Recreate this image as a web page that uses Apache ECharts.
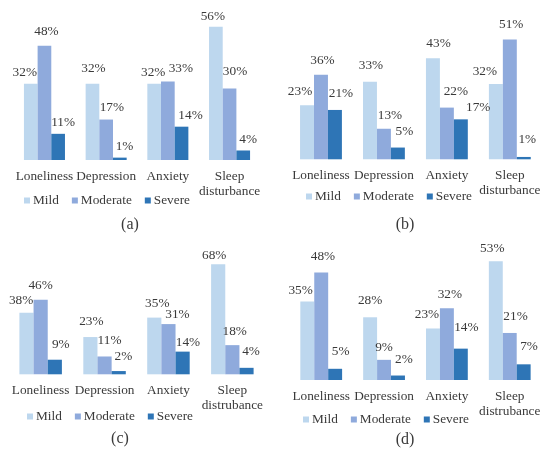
<!DOCTYPE html>
<html>
<head>
<meta charset="utf-8">
<script src="https://cdn.jsdelivr.net/npm/echarts@6/dist/echarts.min.js"></script>
<style>
  html, body { margin: 0; padding: 0; background: #fff; }
  #chart { width: 543px; height: 454px; }
</style>
</head>
<body>
<div id="chart"></div>
<script>
// Prevalence of symptom severity (%) in four survey groups
const seriesNames = ['Mild', 'Moderate', 'Severe'];
const categoriesAB = ['Loneliness', 'Depression', 'Anxiety', 'Sleep\ndisturbance'];
const categoriesCD = ['Loneliness', 'Depression', 'Anxiety', 'Sleep\ndistrubance'];
const panelLabels = ['(a)', '(b)', '(c)', '(d)'];

const mildA = [32, 32, 32, 56];
const moderateA = [48, 17, 33, 30];
const severeA = [11, 1, 14, 4];

const mildB = [23, 33, 43, 32];
const moderateB = [36, 13, 22, 51];
const severeB = [21, 5, 17, 1];

const mildC = [38, 23, 35, 68];
const moderateC = [46, 11, 31, 18];
const severeC = [9, 2, 14, 4];

const mildD = [35, 28, 23, 53];
const moderateD = [48, 9, 32, 21];
const severeD = [5, 2, 14, 7];

// Hand-placed nudges [dx, dy] for the value labels, per series and category
const labelNudgeA = [
  [[-6, 0], [1, -3.5], [-1, 0], [-3, 1]],
  [[2, -3], [5.7, -1], [13, -1], [5.5, -5.4]],
  [[5, 0], [4.7, 0], [9, 0], [5, 1]]
];
const labelNudgeB = [
  [[-7, -2], [1, -5], [5.6, -3.5], [-11, -1]],
  [[1.5, -3], [6, -2], [9, -4.4], [1.4, -3]],
  [[6, -4.5], [6.6, -4.4], [17.4, 0], [3.5, -5.5]]
];
const labelNudgeC = [
  [[-5.4, -1], [1, -3.8], [3, -2.8], [-4, 3]],
  [[0, -2.6], [5, -4.3], [9, 2.4], [2.4, -2.6]],
  [[6, -4], [4.7, -3.5], [5.4, 2.6], [4.5, -4.6]]
];
const labelNudgeD = [
  [[-6.7, 0], [0, -4.8], [-6, -2], [-3.5, -1.5]],
  [[1.7, -4.3], [0, -1], [3, -2.8], [5.8, -4.8]],
  [[5.5, -5.6], [6, -5], [5.5, -9.4], [5.4, -6]]
];

const colors = ['#bdd7ee', '#8faadc', '#2e75b6'];
const textColor = '#3a3a3a';
const fontFamily = '"Liberation Serif", "Times New Roman", serif';
const fontSize = 13.3;

// Layout of each panel: plot box, value axis max, legend and caption placement
const panels = [
  { cats: categoriesAB, data: [mildA, moderateA, severeA], nudge: labelNudgeA, grid: { left: 13.6, top: 17.2, width: 246.8, height: 142.8 }, max: 60, legend: { left: 24, top: 194 }, title: { x: 130, y: 217 } },
  { cats: categoriesAB, data: [mildB, moderateB, severeB], nudge: labelNudgeB, grid: { left: 289.5, top: 18.3, width: 255.6, height: 141 }, max: 60, legend: { left: 306, top: 190 }, title: { x: 405, y: 217 } },
  { cats: categoriesCD, data: [mildC, moderateC, severeC], nudge: labelNudgeC, grid: { left: 8.7, top: 244.7, width: 255.6, height: 129.6 }, max: 80, legend: { left: 27, top: 410 }, title: { x: 120, y: 431 } },
  { cats: categoriesCD, data: [mildD, moderateD, severeD], nudge: labelNudgeD, grid: { left: 289.8, top: 245.6, width: 254.4, height: 134.4 }, max: 60, legend: { left: 303, top: 413 }, title: { x: 405, y: 432 } }
];

const option = {
  animation: false,
  textStyle: { fontFamily: fontFamily },
  grid: [], xAxis: [], yAxis: [], series: [], legend: [], title: []
};

panels.forEach(function (p, i) {
  option.grid.push(Object.assign({ containLabel: false }, p.grid));
  option.xAxis.push({
    type: 'category', gridIndex: i, data: p.cats,
    axisLine: { show: false }, axisTick: { show: false }, splitLine: { show: false },
    axisLabel: { interval: 0, margin: 9, color: textColor, fontSize: fontSize, lineHeight: 15, fontFamily: fontFamily }
  });
  option.yAxis.push({
    type: 'value', gridIndex: i, min: 0, max: p.max, show: false, splitLine: { show: false }
  });
  seriesNames.forEach(function (name, k) {
    option.series.push({
      type: 'bar', name: name, xAxisIndex: i, yAxisIndex: i,
      data: p.data[k].map(function (v, j) {
        return { value: v, label: { offset: p.nudge[k][j] } };
      }),
      itemStyle: { color: colors[k] },
      barGap: '0%', barCategoryGap: '33.5%',
      label: {
        show: true, position: 'top', distance: 5, formatter: '{c}%',
        color: textColor, fontSize: fontSize, fontFamily: fontFamily
      }
    });
  });
  option.legend.push({
    data: seriesNames, left: p.legend.left, top: p.legend.top, orient: 'horizontal',
    padding: 0, itemWidth: 6, itemHeight: 6, itemGap: 13, icon: 'rect',
    textStyle: { color: textColor, fontSize: fontSize, fontFamily: fontFamily, padding: [0, 0, 0, -2] },
    selectedMode: false
  });
  option.title.push({
    text: panelLabels[i], left: p.title.x, top: p.title.y, textAlign: 'center', padding: 0,
    textStyle: { color: textColor, fontSize: 16, fontWeight: 'normal', fontFamily: fontFamily }
  });
});

const chart = echarts.init(document.getElementById('chart'), null, { renderer: 'canvas' });
chart.setOption(option);
</script>
</body>
</html>
